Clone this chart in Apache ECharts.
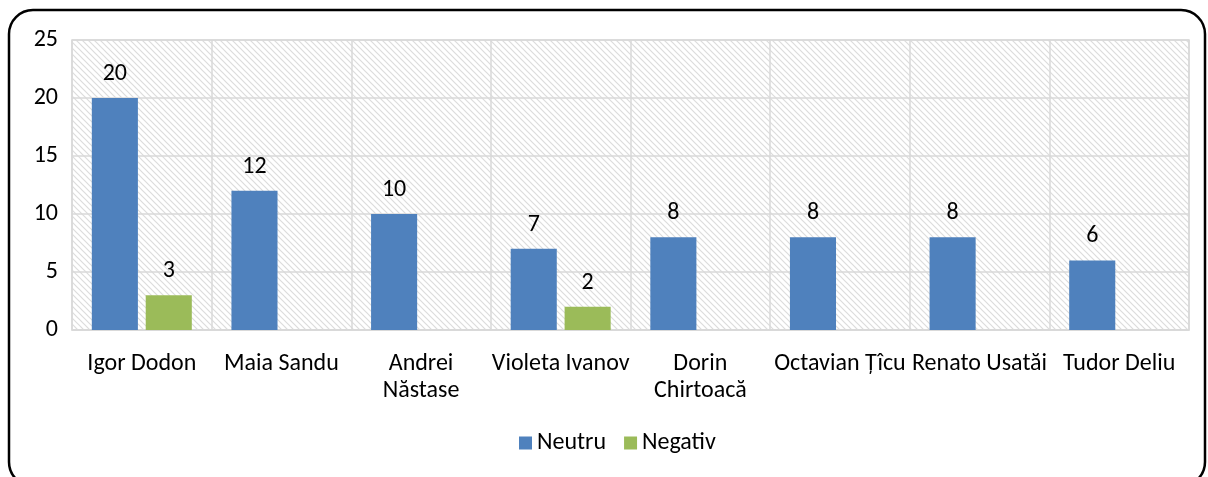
<!DOCTYPE html>
<html>
<head>
<meta charset="utf-8">
<script src="https://cdn.jsdelivr.net/npm/echarts@6/dist/echarts.min.js"></script>
<style>
  html, body { margin: 0; padding: 0; background: #fff; }
  #chart { width: 1208px; height: 477px; }
</style>
</head>
<body>
<div id="chart"></div>
<script>
// date din grafic
const candidati = ['Igor Dodon', 'Maia Sandu', 'Andrei Năstase', 'Violeta Ivanov', 'Dorin Chirtoacă', 'Octavian Țîcu', 'Renato Usatăi', 'Tudor Deliu'];
const neutru = [20, 12, 10, 7, 8, 8, 8, 6];
const negativ = [3, null, null, 2, null, null, null, null];
const seriiNume = ['Neutru', 'Negativ'];

// etichete rupte pe doua randuri, ca in original
const rupte = ['Andrei Năstase', 'Dorin Chirtoacă'];

// model hasurat pentru fundalul zonei de desen
function hatchPattern() {
    const c = document.createElement('canvas');
    c.width = 6;
    c.height = 6;
    const ctx = c.getContext('2d');
    ctx.fillStyle = '#ffffff';
    ctx.fillRect(0, 0, 6, 6);
    ctx.strokeStyle = '#dcdcdc';
    ctx.lineWidth = 1.2;
    ctx.beginPath();
    ctx.moveTo(-1, -1); ctx.lineTo(7, 7);
    ctx.moveTo(-1, 5); ctx.lineTo(1, 7);
    ctx.moveTo(5, -1); ctx.lineTo(7, 1);
    ctx.stroke();
    return c;
}

const font = 'Calibri, Carlito, "Open Sans", sans-serif';
const chart = echarts.init(document.getElementById('chart'));

chart.setOption({
    animation: false,
    textStyle: { fontFamily: font },
    graphic: [{
        type: 'rect',
        shape: { x: 9, y: 10, width: 1196, height: 476, r: 24 },
        style: { fill: 'none', stroke: '#000', lineWidth: 2.5 },
        silent: true,
        z: -10
    }],
    grid: {
        left: 72,
        right: 19,
        top: 40,
        bottom: 147,
        show: true,
        backgroundColor: { image: hatchPattern(), repeat: 'repeat' },
        borderColor: '#d9d9d9',
        borderWidth: 1.5
    },
    legend: {
        data: seriiNume,
        bottom: 17,
        left: 514,
        itemWidth: 13,
        itemHeight: 13,
        itemGap: 18,
        icon: 'rect',
        textStyle: { fontSize: 24, color: '#000', fontFamily: font }
    },
    xAxis: {
        type: 'category',
        data: candidati,
        axisTick: { show: false },
        axisLine: { lineStyle: { color: '#d9d9d9', width: 1.5 } },
        splitLine: { show: true, interval: 0, lineStyle: { color: '#d9d9d9', width: 1.5 } },
        axisLabel: {
            interval: 0,
            margin: 20,
            fontSize: 24,
            lineHeight: 27,
            color: '#000',
            formatter: function (v) {
                return rupte.indexOf(v) >= 0 ? v.replace(' ', '\n') : v;
            }
        }
    },
    yAxis: {
        type: 'value',
        min: 0,
        max: 25,
        interval: 5,
        axisLine: { show: false },
        axisTick: { show: false },
        splitLine: { lineStyle: { color: '#d9d9d9', width: 1.5 } },
        axisLabel: { fontSize: 24, color: '#000', margin: 14 }
    },
    series: [
        {
            name: seriiNume[0],
            type: 'bar',
            data: neutru,
            barWidth: '33%',
            barGap: '17%',
            itemStyle: { color: '#4f81bd' },
            label: { show: true, position: 'top', distance: 12, fontSize: 24, color: '#000' }
        },
        {
            name: seriiNume[1],
            type: 'bar',
            data: negativ,
            barWidth: '33%',
            itemStyle: { color: '#9bbb59' },
            label: { show: true, position: 'top', distance: 12, fontSize: 24, color: '#000' }
        }
    ]
});
</script>
</body>
</html>
